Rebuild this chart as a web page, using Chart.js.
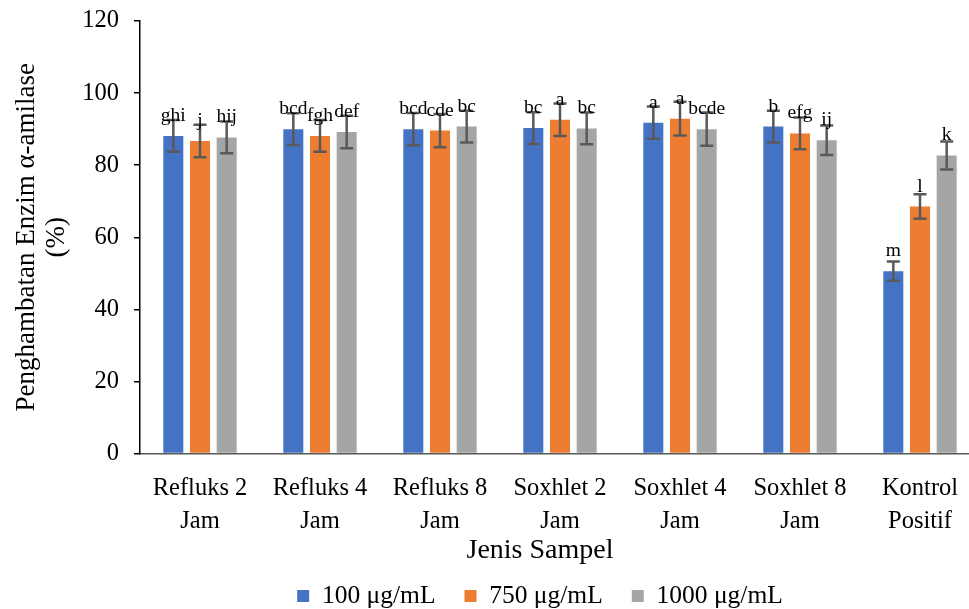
<!DOCTYPE html>
<html>
<head>
<meta charset="utf-8">
<script src="https://cdn.jsdelivr.net/npm/chart.js@4.4.1/dist/chart.umd.min.js"></script>
<style>
html,body{margin:0;padding:0;overflow:hidden;background:#fff;width:969px;height:609px}
#wrap{width:980px;height:609px}
</style>
</head>
<body>
<div id="wrap"><canvas id="c" width="980" height="609"></canvas></div>
<script>
const categories = [["Refluks 2","Jam"],["Refluks 4","Jam"],["Refluks 8","Jam"],["Soxhlet 2","Jam"],["Soxhlet 4","Jam"],["Soxhlet 8","Jam"],["Kontrol","Positif"]];
const seriesNames = ["100 μg/mL","750 μg/mL","1000 μg/mL"];
const values100  = [88.1, 90.0, 90.0, 90.3, 91.8, 90.7, 50.6];
const values750  = [86.7, 88.1, 89.6, 92.6, 92.9, 88.8, 68.5];
const values1000 = [87.7, 89.2, 90.7, 90.2, 90.0, 86.9, 82.7];
const errors100  = [4.4, 4.4, 4.5, 4.4, 4.5, 4.4, 2.7];
const errors750  = [4.5, 4.4, 4.6, 4.5, 4.7, 4.4, 3.4];
const errors1000 = [4.4, 4.5, 4.4, 4.4, 4.6, 4.1, 3.9];
const letters100  = ["ghi","bcd","bcd","bc","a","b","m"];
const letters750  = ["j","fgh","cde","a","a","efg","l"];
const letters1000 = ["hij","def","bc","bc","bcde","ij","k"];
const yTicks = [0,20,40,60,80,100,120];
const xTitle = "Jenis Sampel";
const yTitle = ["Penghambatan Enzim α-amilase","(%)"];

const errorSets = [errors100, errors750, errors1000];
const letterSets = [letters100, letters750, letters1000];
const FONT = "'Liberation Serif', 'Times New Roman', serif";

const annot = {
  id: 'annot',
  afterDatasetsDraw(chart) {
    const ctx = chart.ctx, ys = chart.scales.y;
    ctx.save();
    ctx.strokeStyle = '#595959';
    ctx.lineWidth = 2.5;
    chart.data.datasets.forEach((ds, i) => {
      chart.getDatasetMeta(i).data.forEach((bar, j) => {
        const v = ds.data[j], e = errorSets[i][j];
        const yt = ys.getPixelForValue(v + e), yb = ys.getPixelForValue(v - e);
        ctx.beginPath();
        ctx.moveTo(bar.x, yt); ctx.lineTo(bar.x, yb);
        ctx.moveTo(bar.x - 6.5, yt); ctx.lineTo(bar.x + 6.5, yt);
        ctx.moveTo(bar.x - 6.5, yb); ctx.lineTo(bar.x + 6.5, yb);
        ctx.stroke();
      });
    });
    ctx.fillStyle = '#000';
    ctx.font = "19.5px " + FONT;
    ctx.textAlign = 'center';
    ctx.textBaseline = 'alphabetic';
    chart.data.datasets.forEach((ds, i) => {
      chart.getDatasetMeta(i).data.forEach((bar, j) => {
        ctx.fillText(letterSets[i][j], bar.x, bar.y - 15);
      });
    });
    ctx.restore();
  }
};

const place = {
  id: 'place',
  beforeLayout(chart) {
    const L = chart.legend;
    if (L && !L._slim) {
      const origFit = L.fit.bind(L);
      L.fit = function () { origFit(); this.height = 10; };
      L._slim = true;
    }
  },
  afterLayout(chart) {
    const L = chart.legend;
    const dx = 540 - (L.left + L.right) / 2;
    L.left += dx; L.right += dx;
    L.top = 596 - L.options.labels.padding - 12.75;
    L.bottom = chart.height;
    L.height = L.bottom - L.top;
    const T = chart.titleBlock;
    const tdx = 540 - (T.left + T.right) / 2;
    T.left += tdx; T.right += tdx;
    const th = T.height;
    T.top = 551 - th / 2;
    T.bottom = T.top + th;
  }
};

new Chart(document.getElementById('c'), {
  type: 'bar',
  data: {
    labels: categories,
    datasets: [
      { label: seriesNames[0], data: values100,  backgroundColor: '#4472C4' },
      { label: seriesNames[1], data: values750,  backgroundColor: '#ED7D31' },
      { label: seriesNames[2], data: values1000, backgroundColor: '#A5A5A5' }
    ]
  },
  options: {
    responsive: false,
    animation: false,
    devicePixelRatio: 1,
    categoryPercentage: 0.667,
    barPercentage: 0.75,
    layout: { padding: { top: 21, left: 0, right: 0, bottom: 0 } },
    plugins: {
      tooltip: { enabled: false },
      legend: {
        position: 'bottom',
        labels: { boxWidth: 12, boxHeight: 12, padding: 29, color: '#000', font: { family: FONT, size: 25.5 } }
      },
      title: {
        display: true, position: 'bottom', text: xTitle, weight: 500,
        color: '#000', padding: 0, font: { family: FONT, size: 28, weight: 'normal', lineHeight: 1.2 }
      }
    },
    scales: {
      x: {
        grid: { display: false, drawTicks: false },
        border: { display: true, color: '#595959', width: 1.5 },
        ticks: { color: '#000', padding: 18, maxRotation: 0, autoSkip: false, font: { family: FONT, size: 24.5, lineHeight: 1.36 } },
        afterFit(s) { s.height = 609 - 453.5 - s.chart.legend.height - s.chart.titleBlock.height; }
      },
      y: {
        min: 0, max: 120,
        afterBuildTicks(s) { s.ticks = yTicks.map(v => ({ value: v })); },
        grid: { drawOnChartArea: false, drawTicks: true, tickLength: 6, color: '#000', lineWidth: 1.5 },
        border: { display: true, color: '#000', width: 1.5 },
        ticks: { color: '#000', padding: 15, font: { family: FONT, size: 24.5 } },
        title: {
          display: true, text: yTitle, color: '#000',
          padding: { top: 12, bottom: 0 },
          font: { family: FONT, size: 27, lineHeight: 1.1 }
        },
        afterFit(s) { s.width = 140; s.paddingTop = 0; s.paddingBottom = 0; }
      }
    }
  },
  plugins: [annot, place]
});
</script>
</body>
</html>
